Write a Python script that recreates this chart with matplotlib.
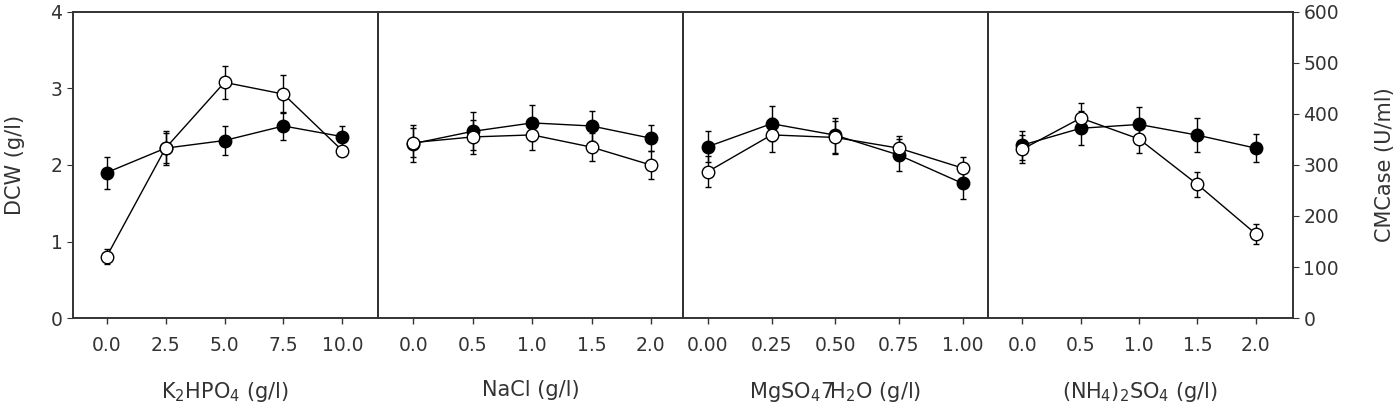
import numpy as np
import matplotlib
matplotlib.use("Agg")
import matplotlib.pyplot as plt

plt.rcParams['font.family'] = ['DejaVu Sans']
plt.rcParams['mathtext.default'] = 'regular'

# ---------------------------------------------------------
# data
# ---------------------------------------------------------

k2hpo4_x = [0.0, 2.5, 5.0, 7.5, 10.0]
k2hpo4_dcw = [1.90, 2.22, 2.32, 2.51, 2.37]
k2hpo4_dcw_err = [0.21, 0.22, 0.19, 0.18, 0.14]
k2hpo4_cmc = [120, 333, 462, 439, 328]
k2hpo4_cmc_err = [15, 30, 32, 37, 0]

nacl_x = [0.0, 0.5, 1.0, 1.5, 2.0]
nacl_dcw = [2.28, 2.44, 2.55, 2.51, 2.35]
nacl_dcw_err = [0.24, 0.25, 0.24, 0.20, 0.17]
nacl_cmc = [344, 355, 359, 335, 300]
nacl_cmc_err = [28, 33, 30, 28, 28]

mgso4_x = [0.00, 0.25, 0.50, 0.75, 1.00]
mgso4_dcw = [2.24, 2.54, 2.39, 2.13, 1.76]
mgso4_dcw_err = [0.20, 0.23, 0.23, 0.21, 0.20]
mgso4_cmc = [287, 359, 354, 333, 294]
mgso4_cmc_err = [30, 34, 32, 24, 21]

nh4_x = [0.0, 0.5, 1.0, 1.5, 2.0]
nh4_dcw = [2.26, 2.48, 2.53, 2.39, 2.22]
nh4_dcw_err = [0.19, 0.22, 0.23, 0.22, 0.18]
nh4_cmc = [331, 392, 351, 262, 165]
nh4_cmc_err = [27, 29, 28, 24, 20]

panels = [
    (k2hpo4_x, k2hpo4_dcw, k2hpo4_dcw_err, k2hpo4_cmc, k2hpo4_cmc_err,
     ['0.0', '2.5', '5.0', '7.5', '10.0'], (-1.43, 11.5), r'K$_2$HPO$_4$ (g/l)'),
    (nacl_x, nacl_dcw, nacl_dcw_err, nacl_cmc, nacl_cmc_err,
     ['0.0', '0.5', '1.0', '1.5', '2.0'], (-0.30, 2.27), 'NaCl (g/l)'),
    (mgso4_x, mgso4_dcw, mgso4_dcw_err, mgso4_cmc, mgso4_cmc_err,
     ['0.00', '0.25', '0.50', '0.75', '1.00'], (-0.098, 1.10), r'MgSO$_4$7H$_2$O (g/l)'),
    (nh4_x, nh4_dcw, nh4_dcw_err, nh4_cmc, nh4_cmc_err,
     ['0.0', '0.5', '1.0', '1.5', '2.0'], (-0.295, 2.32), r'(NH$_4$)$_2$SO$_4$ (g/l)'),
]

# ---------------------------------------------------------
# figure
# ---------------------------------------------------------

fig, axes = plt.subplots(1, 4, figsize=(14, 4.13), dpi=100, sharey=True)
fig.subplots_adjust(left=0.052, right=0.9236, top=0.971, bottom=0.230, wspace=0)

spine_col = '#333333'
text_col = '#333333'
tick_fs = 13.5
label_fs = 15

for i, (ax, p) in enumerate(zip(axes, panels)):
    x, dcw, dcw_err, cmc, cmc_err, labels, xlim, xlabel = p

    ax2 = ax.twinx()

    ax.errorbar(x, dcw, yerr=dcw_err, fmt='-o', color='black',
                mfc='black', mec='black', ms=9, lw=1, elinewidth=1,
                capsize=2.5, capthick=1, zorder=2)
    ax2.errorbar(x, cmc, yerr=cmc_err, fmt='-o', color='black',
                 mfc='white', mec='black', ms=9, lw=1, elinewidth=1,
                 capsize=2.5, capthick=1, zorder=3)

    ax.set_xlim(*xlim)
    ax.set_ylim(0, 4)
    ax2.set_ylim(0, 600)

    ax.set_xticks(x)
    ax.set_xticklabels(labels, fontsize=tick_fs, color=text_col)
    ax.tick_params(axis='x', direction='out', length=4, pad=9,
                   color=spine_col, width=1)
    ax.set_xlabel(xlabel, fontsize=label_fs, labelpad=18, color=text_col)

    for a in (ax, ax2):
        for s in a.spines.values():
            s.set_color(spine_col)
            s.set_linewidth(1.2)

    if i == 0:
        ax.set_yticks([0, 1, 2, 3, 4])
        ax.tick_params(axis='y', direction='out', length=4, labelsize=tick_fs,
                       color=spine_col, labelcolor=text_col)
        ax.set_ylabel('DCW (g/l)', fontsize=label_fs, labelpad=18, color=text_col)
    else:
        ax.tick_params(axis='y', left=False, labelleft=False)

    if i == 3:
        ax2.set_yticks([0, 100, 200, 300, 400, 500, 600])
        ax2.tick_params(axis='y', direction='out', length=4, labelsize=tick_fs,
                        color=spine_col, labelcolor=text_col)
        ax2.set_ylabel('CMCase (U/ml)', fontsize=label_fs, labelpad=26, color=text_col)
    else:
        ax2.tick_params(axis='y', right=False, labelright=False)

fig.savefig('out.png', dpi=100)
